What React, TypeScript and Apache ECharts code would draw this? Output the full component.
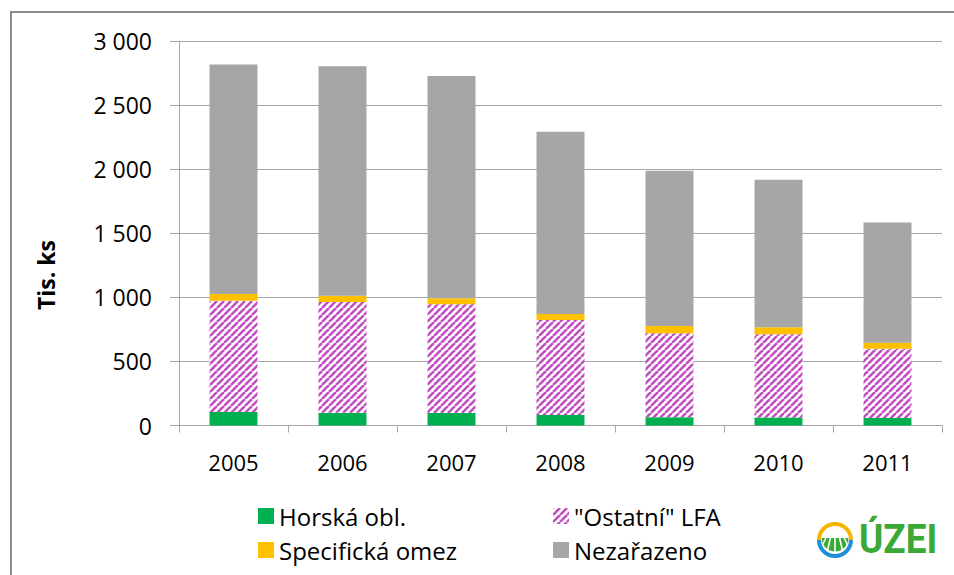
import React, { useEffect, useRef } from 'react';
import * as echarts from 'echarts';

const years = ['2005', '2006', '2007', '2008', '2009', '2010', '2011'];
const horska = [105, 100, 98, 82, 64, 63, 58];
const ostatni = [869, 864, 848, 741, 655, 649, 541];
const specificka = [52, 49, 46, 47, 57, 54, 47];
const nezarazeno = [1790, 1790, 1734, 1422, 1212, 1152, 938];
const yTicks = [0, 500, 1000, 1500, 2000, 2500, 3000];
const seriesNames = ['Horská obl.', '"Ostatní" LFA', 'Specifická omez', 'Nezařazeno'];
const yTitle = 'Tis. ks';
const logoText = 'ÚZEI';

function makeHatch() {
  const s = 7;
  const c = document.createElement('canvas');
  c.width = s;
  c.height = s;
  const ctx = c.getContext('2d')!;
  ctx.fillStyle = '#ffffff';
  ctx.fillRect(0, 0, s, s);
  ctx.strokeStyle = '#c24fc2';
  ctx.lineWidth = 2.6;
  for (const o of [-s, 0, s]) {
    ctx.beginPath();
    ctx.moveTo(o, s);
    ctx.lineTo(o + s, 0);
    ctx.stroke();
  }
  return c;
}

function fmt(v: number) {
  if (v >= 1000) return `${Math.floor(v / 1000)} ${String(v % 1000).padStart(3, '0')}`;
  return String(v);
}

export default function App() {
  const ref = useRef<HTMLDivElement>(null);
  useEffect(() => {
    const chart = echarts.init(ref.current!, null, { renderer: 'svg' });
    const hatch = makeHatch();
    const font = 'Open Sans';
    const axisGray = '#a6a6a6';

    const cx = 835, cy = 538, vpY = 518, botY = 557;
    const rayLines: any[] = [];
    for (let k = -3; k <= 3; k++) {
      const xAt = (y: number) => cx + (k * 9 * (y - vpY)) / (botY - vpY);
      rayLines.push({
        type: 'line',
        shape: { x1: xAt(538), y1: 538, x2: xAt(557), y2: 557 },
        style: { stroke: '#ffffff', lineWidth: 1.6 },
        silent: true,
      });
    }

    const legendBase = {
      orient: 'vertical',
      itemWidth: 16,
      itemHeight: 16,
      itemGap: 10,
      icon: 'rect',
      top: 499,
      textStyle: { fontFamily: font, fontSize: 24, color: '#000', lineHeight: 24 },
    };

    chart.setOption({
      animation: false,
      backgroundColor: '#ffffff',
      grid: { left: 179, right: 12, top: 41, bottom: 149.5 },
      legend: [
        { ...legendBase, left: 253, data: [seriesNames[0], seriesNames[2]] },
        { ...legendBase, left: 548, data: [seriesNames[1], seriesNames[3]] },
      ],
      xAxis: {
        type: 'category',
        data: years,
        axisLine: { show: true, lineStyle: { color: axisGray, width: 1 } },
        axisTick: { show: true, length: 7, lineStyle: { color: axisGray } },
        axisLabel: { fontFamily: font, fontSize: 22, color: '#000', margin: 25 },
        splitLine: { show: false },
      },
      yAxis: {
        type: 'value',
        min: yTicks[0],
        max: yTicks[yTicks.length - 1],
        interval: yTicks[1] - yTicks[0],
        axisLine: { show: true, lineStyle: { color: axisGray, width: 1 } },
        axisTick: { show: true, length: 9, lineStyle: { color: axisGray } },
        axisLabel: { fontFamily: font, fontSize: 23, color: '#000', margin: 27, formatter: fmt },
        splitLine: { show: true, lineStyle: { color: axisGray, width: 1 } },
      },
      series: [
        { name: seriesNames[0], type: 'bar', stack: 'a', barWidth: '44%', data: horska, itemStyle: { color: '#00b050' } },
        { name: seriesNames[1], type: 'bar', stack: 'a', barWidth: '44%', data: ostatni, itemStyle: { color: { image: hatch, repeat: 'repeat', imageWidth: 7, imageHeight: 7 } } },
        { name: seriesNames[2], type: 'bar', stack: 'a', barWidth: '44%', data: specificka, itemStyle: { color: '#ffc000' } },
        { name: seriesNames[3], type: 'bar', stack: 'a', barWidth: '44%', data: nezarazeno, itemStyle: { color: '#a6a6a6' } },
      ],
      graphic: [
        { type: 'rect', shape: { x: 11, y: 12, width: 1000, height: 700 }, style: { fill: null, stroke: '#8c8c8c', lineWidth: 2 }, silent: true, z: -10 },
        {
          type: 'text', x: 46, y: 275, rotation: Math.PI / 2,
          style: { text: yTitle, fontFamily: font, fontWeight: 'bold', fontSize: 23, fill: '#000', align: 'center', verticalAlign: 'middle' },
        },
        { type: 'sector', shape: { cx, cy, r: 13.5, r0: 0, startAngle: 0, endAngle: Math.PI }, style: { fill: '#3aa935' }, silent: true },
        ...rayLines,
        { type: 'arc', shape: { cx, cy: 540, r: 16, startAngle: Math.PI, endAngle: Math.PI * 2 }, style: { stroke: '#f5b400', lineWidth: 4, fill: null }, silent: true },
        { type: 'arc', shape: { cx, cy: 540, r: 16, startAngle: 0, endAngle: Math.PI }, style: { stroke: '#1e8fd6', lineWidth: 4, fill: null }, silent: true },
        {
          type: 'text', x: 859, y: 539, scaleX: 0.9,
          style: { text: logoText, fontFamily: 'Roboto', fontWeight: 'bold', fontSize: 41, fill: '#3aa935', align: 'left', verticalAlign: 'middle' },
        },
      ],
    });
    return () => chart.dispose();
  }, []);
  return <div ref={ref} style={{ position: 'fixed', left: 0, top: 0, width: 954, height: 575 }} />;
}
